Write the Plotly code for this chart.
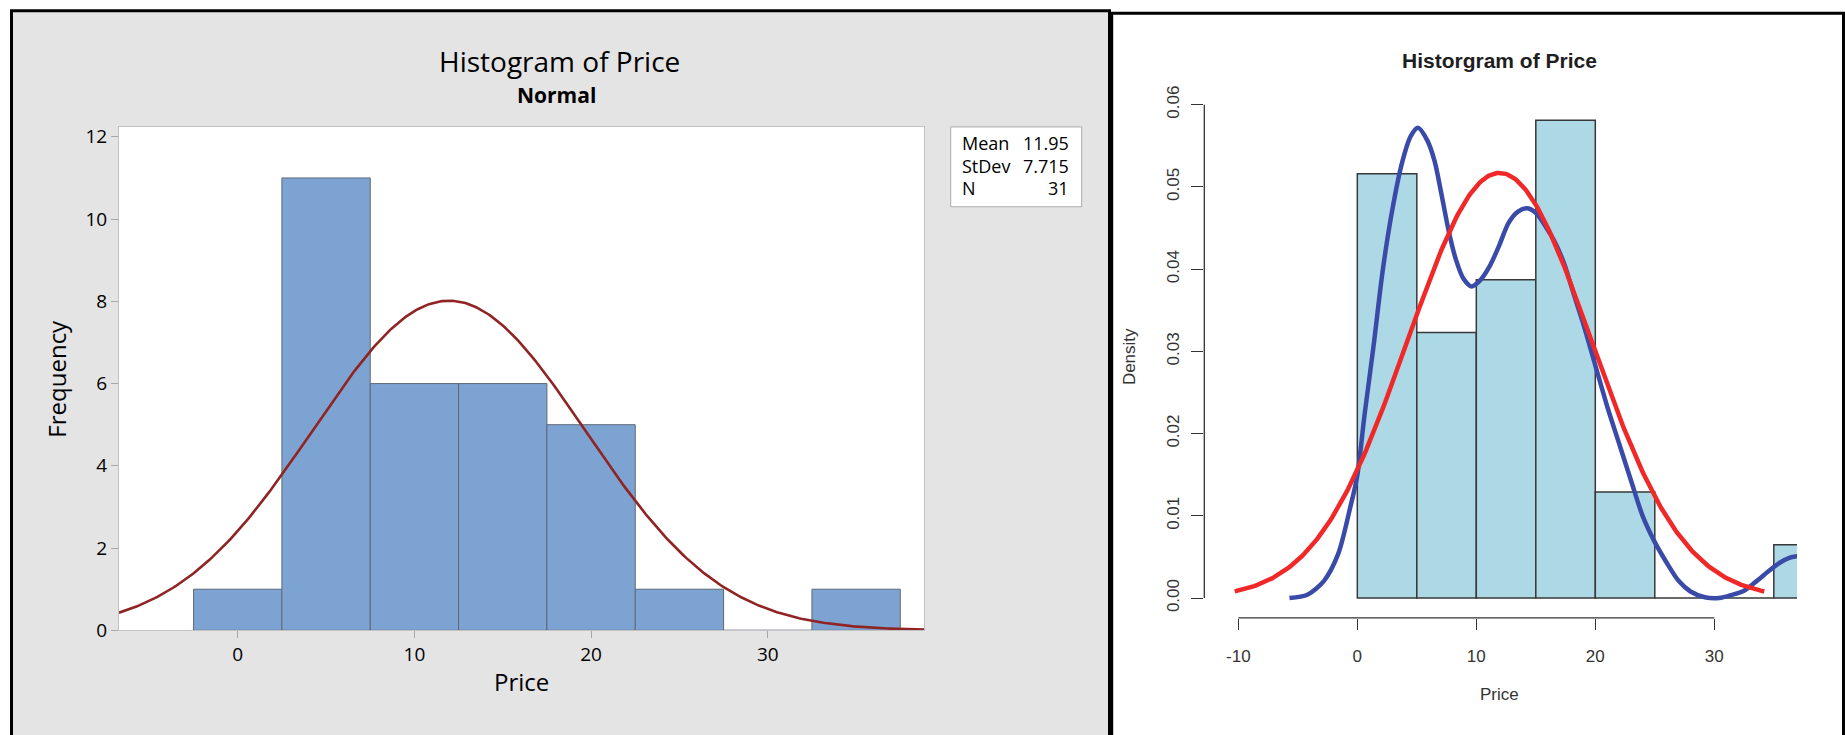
import numpy as np
import plotly.graph_objects as go

W, H = 1845, 735

# ---- Minitab-style frequency histogram ----
bin_mids = [0, 5, 10, 15, 20, 25, 30, 35]
freq_counts = [1, 11, 6, 6, 5, 1, 0, 1]
bin_width = 5
price_mean = 11.95
price_sd = 7.715
price_n = 31
left_xticks = [0, 10, 20, 30]
left_yticks = [0, 2, 4, 6, 8, 10, 12]

# ---- R-style density histogram ----
r_bin_mids = [2.5, 7.5, 12.5, 17.5, 22.5, 27.5, 32.5, 37.5]
r_density = [0.0516, 0.0323, 0.0387, 0.0581, 0.0129, 0.0, 0.0, 0.0065]
kde_x = [-5.7, -4.2, -2.8, -1.6, -0.6, 0.0, 0.6, 1.35, 2.15, 2.95, 3.75, 4.5,
         5.1, 5.9, 6.5, 7.1, 7.7, 8.3, 8.9, 9.6, 10.3, 11.1, 11.9, 12.7, 13.5,
         14.3, 15.1, 15.9, 16.6, 17.4, 18.2, 19.0, 20.0, 21.0, 22.0, 23.0,
         24.0, 25.0, 26.0, 27.0, 28.0, 29.2, 30.4, 31.5, 32.5, 33.5, 34.5,
         35.5, 36.3, 37.0]
kde_y = [0.0, 0.0004, 0.0021, 0.0054, 0.011, 0.0149, 0.0222, 0.0305, 0.040,
         0.0473, 0.0529, 0.0562, 0.0572, 0.0556, 0.0531, 0.0489, 0.0445,
         0.0411, 0.0389, 0.0379, 0.0386, 0.0403, 0.0428, 0.0456, 0.047,
         0.0474, 0.0467, 0.045, 0.0433, 0.0406, 0.0369, 0.0333, 0.0283,
         0.0233, 0.0188, 0.0143, 0.0099, 0.0068, 0.0043, 0.0021, 0.0008,
         0.0001, 0.0, 0.0004, 0.0009, 0.002, 0.0032, 0.0043, 0.0049, 0.0051]
right_xticks = [-10, 0, 10, 20, 30]
right_xticktext = ["-10", "0", "10", "20", "30"]
right_yticks = [0.0, 0.01, 0.02, 0.03, 0.04, 0.05, 0.06]
right_yticktext = ["0.00", "0.01", "0.02", "0.03", "0.04", "0.05", "0.06"]
normal_span = (-10.3, 34.2)


def px(x):
    return x / W


def py(y):
    return 1 - y / H


def normal_pdf(x):
    return np.exp(-0.5 * ((x - price_mean) / price_sd) ** 2) / (price_sd * np.sqrt(2 * np.pi))


# axis geometry (pixels)
L_left, L_right, L_top, L_bot = 119, 924.3, 126.7, 641.3
R_left, R_right, R_top, R_bot = 1204.3, 1797, 83.8, 628.5
L_xrange = [-6.72, 38.86]
L_yrange = [0, 12.24]
R_xrange = [-12.86, 36.95]
R_yrange = [-0.0024, 0.0624]

MS = "Open Sans"
RS = "Liberation Sans"

fig = go.Figure()

# Minitab histogram and fitted normal curve (scaled to counts)
fig.add_trace(go.Bar(
    x=bin_mids, y=freq_counts, width=bin_width,
    marker=dict(color="#7DA3D3", line=dict(color="#5d6878", width=1)),
    xaxis="x", yaxis="y", hoverinfo="skip"))
xs_left = np.linspace(L_xrange[0], L_xrange[1], 400)
fig.add_trace(go.Scatter(
    x=xs_left, y=price_n * bin_width * normal_pdf(xs_left), mode="lines",
    line=dict(color="#902424", width=2.6), xaxis="x", yaxis="y", hoverinfo="skip"))

# R histogram with kernel density and normal density
fig.add_trace(go.Bar(
    x=r_bin_mids, y=r_density, width=5,
    marker=dict(color="#ADD8E6", line=dict(color="#383838", width=1.5)),
    xaxis="x2", yaxis="y2", hoverinfo="skip"))
fig.add_trace(go.Scatter(
    x=kde_x, y=kde_y, mode="lines", line_shape="spline",
    line=dict(color="#3a4aa8", width=4.5, smoothing=0.8),
    xaxis="x2", yaxis="y2", hoverinfo="skip"))
xs_right = np.linspace(normal_span[0], normal_span[1], 300)
fig.add_trace(go.Scatter(
    x=xs_right, y=normal_pdf(xs_right), mode="lines",
    line=dict(color="#f02828", width=4.5), xaxis="x2", yaxis="y2", hoverinfo="skip"))

shapes = [
    # grey Minitab panel with black frame
    dict(type="rect", xref="paper", yref="paper", layer="below",
         x0=px(11.5), x1=px(1109.5), y0=py(8), y1=py(760),
         fillcolor="#e4e4e4", line=dict(color="black", width=3)),
    # white plot area
    dict(type="rect", xref="paper", yref="paper", layer="below",
         x0=px(L_left), x1=px(L_right), y0=py(L_bot), y1=py(L_top),
         fillcolor="white", line=dict(width=0)),
    # statistics box
    dict(type="rect", xref="paper", yref="paper", layer="below",
         x0=px(950.7), x1=px(1081.7), y0=py(208.3), y1=py(126.7),
         fillcolor="white", line=dict(color="#ababab", width=1)),
    # R panel frame
    dict(type="rect", xref="paper", yref="paper", layer="below",
         x0=px(1111.7), x1=px(1843.5), y0=py(10.5), y1=py(760),
         fillcolor="white", line=dict(color="black", width=3)),
    # R-style axis lines spanning first to last tick
    dict(type="line", xref="x2", yref="y2 domain", x0=right_xticks[0], x1=right_xticks[-1],
         y0=0, y1=0, line=dict(color="#333333", width=1.3)),
    dict(type="line", xref="x2 domain", yref="y2", x0=0, x1=0,
         y0=right_yticks[0], y1=right_yticks[-1], line=dict(color="#333333", width=1.3)),
]

ann = []


def label(text, x, y, size, font, color="black", angle=0, xanchor="center", bold=False):
    ann.append(dict(text=f"<b>{text}</b>" if bold else text, x=px(x), y=py(y),
                    xref="paper", yref="paper", showarrow=False,
                    xanchor=xanchor, yanchor="middle", textangle=angle,
                    font=dict(family=font, size=size, color=color)))


label("Histogram of Price", 559, 59, 28, MS)
label("Normal", 556, 94, 21, MS, bold=True)
label("Price", 521.5, 694, 24, MS)
label("Frequency", 57, 384, 24, MS, angle=-90)
stat_rows = [("Mean", f"{price_mean:.2f}"), ("StDev", f"{price_sd:.3f}"), ("N", f"{price_n}")]
for (name, val), yy in zip(stat_rows, [143.3, 166.7, 189.3]):
    label(name, 960.5, yy, 18, MS, xanchor="left")
    label(val, 1071, yy, 18, MS, xanchor="right")

label("Historgram of Price", 1499, 59, 21, RS, color="#1e1e1e", bold=True)
label("Price", 1499, 707, 17, RS, color="#333333")
label("Density", 1129, 362, 17, RS, color="#333333", angle=-90)

fig.update_layout(
    width=W, height=H, margin=dict(l=0, r=0, t=0, b=0),
    paper_bgcolor="white", plot_bgcolor="rgba(0,0,0,0)",
    showlegend=False, shapes=shapes, annotations=ann, barmode="overlay",
    xaxis=dict(domain=[px(L_left), px(L_right)], range=L_xrange, anchor="y",
               tickvals=left_xticks, ticks="outside", ticklen=7, tickcolor="#a8a8a8",
               showline=True, linecolor="#c2c2c2", linewidth=1, mirror=True,
               showgrid=False, zeroline=False,
               tickfont=dict(family=MS, size=19, color="black")),
    yaxis=dict(domain=[py(L_bot), py(L_top)], range=L_yrange, anchor="x",
               tickvals=left_yticks, ticks="outside", ticklen=7, tickcolor="#a8a8a8",
               showline=True, linecolor="#c2c2c2", linewidth=1, mirror=True,
               showgrid=False, zeroline=False,
               tickfont=dict(family=MS, size=19, color="black")),
    xaxis2=dict(domain=[px(R_left), px(R_right)], range=R_xrange, anchor="y2",
                tickvals=right_xticks, ticktext=right_xticktext,
                ticks="outside", ticklen=11, tickwidth=1.3,
                tickcolor="#333333", showline=False, showgrid=False, zeroline=False,
                ticklabelstandoff=12,
                tickfont=dict(family=RS, size=17, color="#333333")),
    yaxis2=dict(domain=[py(R_bot), py(R_top)], range=R_yrange, anchor="x2",
                tickvals=right_yticks, ticktext=right_yticktext, tickangle=-90,
                ticks="outside", ticklen=12, tickwidth=1.3, tickcolor="#333333",
                showline=False, showgrid=False, zeroline=False,
                ticklabelstandoff=6,
                tickfont=dict(family=RS, size=17, color="#333333")),
)

fig.write_html("out.html")
